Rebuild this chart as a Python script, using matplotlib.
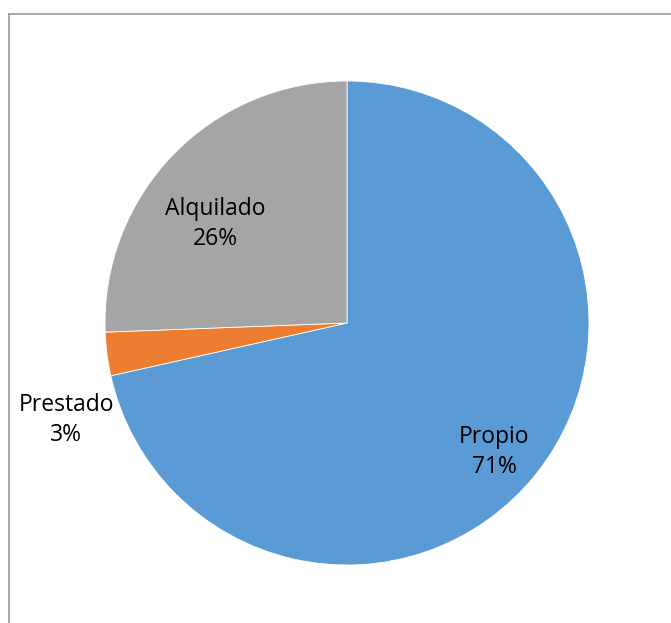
import matplotlib
matplotlib.use("Agg")
import matplotlib.pyplot as plt
from matplotlib.lines import Line2D

categories = ["Propio", "Prestado", "Alquilado"]
values = [71.5, 2.9, 25.6]
pct_labels = ["71%", "3%", "26%"]
colors = ["#5B9BD5", "#ED7D31", "#A5A5A5"]

W, H = 671, 623
cx, cy, r = 347, 323, 242

fig = plt.figure(figsize=(W / 100, H / 100), dpi=100)
ax = fig.add_axes([0, 0, 1, 1])
wedges, _ = ax.pie(values, colors=colors, startangle=90, counterclock=False,
                   radius=1.0, wedgeprops=dict(edgecolor="white", linewidth=0.6))
ax.set_aspect("auto")
ax.set_xlim(-cx / r, (W - cx) / r)
ax.set_ylim((cy - H) / r, cy / r)
ax.axis("off")

def px(x, y):
    return ((x - cx) / r, (cy - y) / r)

label_pos = [(494, 452), (66, 420), (215, 224)]
for cat, pl, (x, y) in zip(categories, pct_labels, label_pos):
    tx, ty = px(x, y)
    ax.text(tx, ty, f"{cat}\n{pl}", ha="center", va="center", fontsize=16.5,
            family=["Open Sans", "DejaVu Sans"], color="#000000", linespacing=1.35)

# border (top and left visible)
fig.add_artist(Line2D([9 / W, 670 / W], [1 - 14 / H, 1 - 14 / H], color="#A0A0A0",
                      linewidth=1.3, transform=fig.transFigure))
fig.add_artist(Line2D([9 / W, 9 / W], [1 - 14 / H, 0], color="#A0A0A0",
                      linewidth=1.3, transform=fig.transFigure))

fig.savefig("out.png", dpi=100)
